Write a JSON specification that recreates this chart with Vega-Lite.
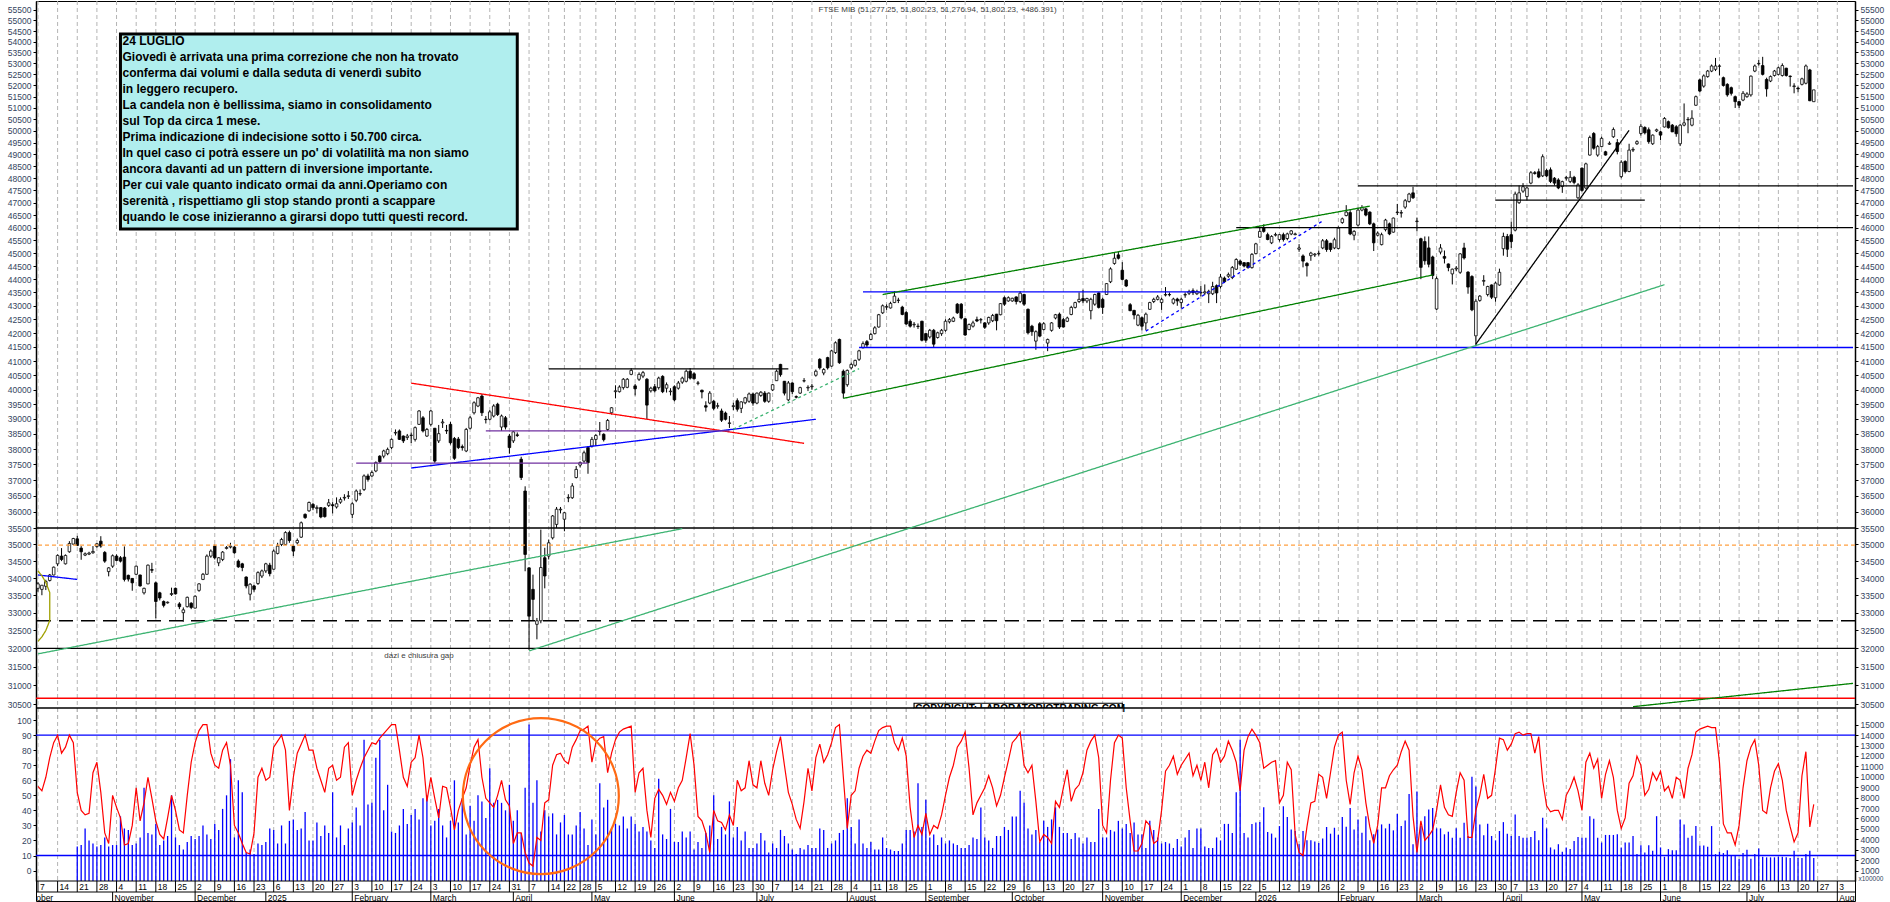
{
"$schema":"https://vega.github.io/schema/vega-lite/v6.json",
"width":1890,"height":902,
"autosize":{"type":"fit","contains":"padding"},
"padding":0,
"background":"#ffffff",
"config":{"font":"Liberation Sans","view":{"stroke":"#000000","strokeWidth":1},"axis":{"labelFont":"Liberation Sans","titleFont":"Liberation Sans"}},
"datasets":{
"px":[
{"d":"2024-10-07","o":33700,"h":33880,"l":33600,"c":33830,"s":56},
{"d":"2024-10-08","o":33670,"h":33800,"l":33500,"c":33790,"s":53},
{"d":"2024-10-09","o":33760,"h":33950,"l":33650,"c":33900,"s":62},
{"d":"2024-10-10","o":33930,"h":34120,"l":33900,"c":34090,"s":75},
{"d":"2024-10-11","o":34090,"h":34340,"l":34080,"c":34320,"s":85},
{"d":"2024-10-14","o":34420,"h":34700,"l":34350,"c":34670,"s":90},
{"d":"2024-10-15","o":34650,"h":34890,"l":34500,"c":34550,"s":78},
{"d":"2024-10-16","o":34420,"h":34700,"l":34400,"c":34670,"s":82},
{"d":"2024-10-17","o":34780,"h":35100,"l":34750,"c":35030,"s":90},
{"d":"2024-10-18","o":35010,"h":35200,"l":34990,"c":35180,"s":85},
{"d":"2024-10-21","o":35170,"h":35260,"l":34950,"c":34970,"s":52,"v":3310},
{"d":"2024-10-22","o":34890,"h":34950,"l":34540,"c":34780,"s":40,"v":3450},
{"d":"2024-10-23","o":34680,"h":34760,"l":34650,"c":34720,"s":37,"v":5040},
{"d":"2024-10-24","o":34710,"h":34780,"l":34680,"c":34740,"s":38,"v":3890},
{"d":"2024-10-25","o":34750,"h":34950,"l":34720,"c":34790,"s":65,"v":3600},
{"d":"2024-10-28","o":34940,"h":35040,"l":34900,"c":35020,"s":72,"v":3310},
{"d":"2024-10-29","o":35100,"h":35250,"l":34900,"c":34950,"s":52,"v":3450},
{"d":"2024-10-30","o":34760,"h":34800,"l":34450,"c":34500,"s":25,"v":4180},
{"d":"2024-10-31","o":34190,"h":34320,"l":34050,"c":34300,"s":18,"v":3310},
{"d":"2024-11-01","o":34350,"h":34700,"l":34300,"c":34660,"s":50,"v":3450},
{"d":"2024-11-04","o":34650,"h":34700,"l":34500,"c":34520,"s":42,"v":3450},
{"d":"2024-11-05","o":34600,"h":34650,"l":34460,"c":34500,"s":35,"v":6200},
{"d":"2024-11-06","o":34620,"h":34940,"l":33900,"c":33960,"s":17,"v":5040},
{"d":"2024-11-07","o":34080,"h":34100,"l":33900,"c":33970,"s":18,"v":4900},
{"d":"2024-11-08","o":33990,"h":34000,"l":33630,"c":33860,"s":30,"v":3450},
{"d":"2024-11-11","o":34110,"h":34370,"l":34090,"c":34350,"s":55,"v":3600},
{"d":"2024-11-12","o":34090,"h":34100,"l":33750,"c":33770,"s":33,"v":4180},
{"d":"2024-11-13","o":33570,"h":33720,"l":33520,"c":33700,"s":45,"v":8940},
{"d":"2024-11-14","o":33830,"h":34400,"l":33820,"c":34380,"s":62,"v":4610},
{"d":"2024-11-15","o":34250,"h":34450,"l":34150,"c":34230,"s":48,"v":4470},
{"d":"2024-11-18","o":33860,"h":33900,"l":32840,"c":33320,"s":33,"v":5480},
{"d":"2024-11-19","o":33570,"h":33600,"l":33350,"c":33420,"s":24,"v":3450},
{"d":"2024-11-20","o":33320,"h":33350,"l":33150,"c":33210,"s":21,"v":3890},
{"d":"2024-11-21","o":33280,"h":33320,"l":33260,"c":33300,"s":35,"v":4320},
{"d":"2024-11-22","o":33520,"h":33720,"l":33480,"c":33550,"s":50,"v":8220},
{"d":"2024-11-25","o":33700,"h":33720,"l":33520,"c":33540,"s":40,"v":4180},
{"d":"2024-11-26","o":33250,"h":33300,"l":33100,"c":33170,"s":27,"v":3450},
{"d":"2024-11-27","o":33000,"h":33150,"l":32740,"c":33080,"s":25,"v":3020},
{"d":"2024-11-28","o":33170,"h":33460,"l":33150,"c":33440,"s":50,"v":3740},
{"d":"2024-11-29","o":33270,"h":33300,"l":33100,"c":33150,"s":72,"v":4320},
{"d":"2024-12-02","o":33130,"h":33500,"l":33120,"c":33470,"s":85,"v":4030},
{"d":"2024-12-03","o":33640,"h":33850,"l":33600,"c":33830,"s":93,"v":4320},
{"d":"2024-12-04","o":33960,"h":34150,"l":33940,"c":34110,"s":97,"v":5330},
{"d":"2024-12-05","o":34110,"h":34700,"l":34100,"c":34650,"s":97,"v":4470},
{"d":"2024-12-06","o":34650,"h":34850,"l":34600,"c":34800,"s":78,"v":4030},
{"d":"2024-12-09","o":34950,"h":35000,"l":34550,"c":34600,"s":70,"v":5480},
{"d":"2024-12-10","o":34450,"h":34620,"l":34350,"c":34600,"s":68,"v":4900},
{"d":"2024-12-11","o":34550,"h":34800,"l":34500,"c":34770,"s":80,"v":6920},
{"d":"2024-12-12","o":34880,"h":34950,"l":34850,"c":34910,"s":85,"v":8220},
{"d":"2024-12-13","o":34920,"h":35050,"l":34880,"c":34950,"s":70,"v":11690},
{"d":"2024-12-16","o":34920,"h":34950,"l":34720,"c":34750,"s":30,"v":4180},
{"d":"2024-12-17","o":34500,"h":34550,"l":34300,"c":34330,"s":25,"v":9660},
{"d":"2024-12-18","o":34420,"h":34450,"l":34200,"c":34310,"s":18,"v":8510},
{"d":"2024-12-19","o":34030,"h":34050,"l":33700,"c":33770,"s":12,"v":2730},
{"d":"2024-12-20","o":33530,"h":33850,"l":33350,"c":33820,"s":11,"v":3020},
{"d":"2024-12-23","o":33770,"h":33800,"l":33600,"c":33670,"s":25,"v":2590},
{"d":"2024-12-27","o":33840,"h":34200,"l":33800,"c":34160,"s":62,"v":3600},
{"d":"2024-12-30","o":34060,"h":34250,"l":34000,"c":34210,"s":68,"v":3450},
{"d":"2025-01-02","o":34210,"h":34450,"l":34150,"c":34420,"s":60,"v":3740},
{"d":"2025-01-03","o":34380,"h":34450,"l":34050,"c":34130,"s":62,"v":5040},
{"d":"2025-01-06","o":34260,"h":34850,"l":34250,"c":34800,"s":82,"v":4900},
{"d":"2025-01-07","o":34730,"h":35050,"l":34700,"c":34950,"s":86,"v":3600},
{"d":"2025-01-08","o":35000,"h":35200,"l":34950,"c":35150,"s":90,"v":5330},
{"d":"2025-01-09","o":35000,"h":35400,"l":34980,"c":35360,"s":80,"v":3600},
{"d":"2025-01-10","o":35360,"h":35420,"l":35050,"c":35120,"s":40,"v":5770},
{"d":"2025-01-13","o":34950,"h":35000,"l":34650,"c":34800,"s":62,"v":5910},
{"d":"2025-01-14","o":35050,"h":35180,"l":35000,"c":35120,"s":78,"v":4900},
{"d":"2025-01-15","o":35220,"h":35700,"l":35200,"c":35660,"s":84,"v":5040},
{"d":"2025-01-16","o":35920,"h":35950,"l":35780,"c":35820,"s":90,"v":6630},
{"d":"2025-01-17","o":36030,"h":36320,"l":36000,"c":36290,"s":80,"v":3890},
{"d":"2025-01-20","o":36230,"h":36280,"l":36050,"c":36130,"s":80,"v":3890},
{"d":"2025-01-21","o":36100,"h":36200,"l":35950,"c":36130,"s":68,"v":5620},
{"d":"2025-01-22","o":36130,"h":36150,"l":35800,"c":35840,"s":60,"v":4320},
{"d":"2025-01-23","o":36120,"h":36150,"l":35820,"c":35850,"s":52,"v":5330},
{"d":"2025-01-24","o":36200,"h":36400,"l":36150,"c":36280,"s":68,"v":4610},
{"d":"2025-01-27","o":36220,"h":36300,"l":35950,"c":36190,"s":70,"v":8510},
{"d":"2025-01-28","o":36150,"h":36450,"l":36100,"c":36250,"s":60,"v":4180},
{"d":"2025-01-29","o":36300,"h":36450,"l":36250,"c":36380,"s":62,"v":5330},
{"d":"2025-01-30","o":36430,"h":36550,"l":36350,"c":36450,"s":82,"v":3450},
{"d":"2025-01-31","o":36480,"h":36650,"l":36400,"c":36500,"s":85,"v":5040},
{"d":"2025-02-03","o":35920,"h":36300,"l":35800,"c":36250,"s":50,"v":5620},
{"d":"2025-02-04","o":36360,"h":36700,"l":36300,"c":36650,"s":60,"v":7060},
{"d":"2025-02-05","o":36560,"h":36700,"l":36500,"c":36570,"s":68,"v":5330},
{"d":"2025-02-06","o":36700,"h":37180,"l":36650,"c":37130,"s":75,"v":13560},
{"d":"2025-02-07","o":37130,"h":37200,"l":36950,"c":37020,"s":80,"v":7350},
{"d":"2025-02-10","o":37130,"h":37300,"l":37100,"c":37240,"s":85,"v":7500},
{"d":"2025-02-11","o":37290,"h":37600,"l":37250,"c":37560,"s":84,"v":11830},
{"d":"2025-02-12","o":37770,"h":37800,"l":37550,"c":37590,"s":88,"v":13560},
{"d":"2025-02-13","o":37770,"h":37980,"l":37700,"c":37940,"s":91,"v":6780},
{"d":"2025-02-14","o":37850,"h":38050,"l":37800,"c":37990,"s":94,"v":9230},
{"d":"2025-02-17","o":38050,"h":38350,"l":38000,"c":38320,"s":97,"v":4750},
{"d":"2025-02-18","o":38530,"h":38650,"l":38450,"c":38550,"s":97,"v":4610},
{"d":"2025-02-19","o":38600,"h":38650,"l":38300,"c":38320,"s":80,"v":5330},
{"d":"2025-02-20","o":38430,"h":38450,"l":38200,"c":38270,"s":62,"v":6920},
{"d":"2025-02-21","o":38380,"h":38500,"l":38300,"c":38430,"s":56,"v":5480},
{"d":"2025-02-24","o":38450,"h":38550,"l":38200,"c":38460,"s":72,"v":6340},
{"d":"2025-02-25","o":38320,"h":38750,"l":38250,"c":38710,"s":75,"v":6920},
{"d":"2025-02-26","o":38820,"h":39300,"l":38800,"c":39270,"s":90,"v":5910},
{"d":"2025-02-27","o":39040,"h":39100,"l":38550,"c":38600,"s":75,"v":7930},
{"d":"2025-02-28","o":38430,"h":38700,"l":38400,"c":38650,"s":46,"v":8220},
{"d":"2025-03-03","o":38820,"h":39300,"l":38750,"c":39270,"s":62,"v":5330},
{"d":"2025-03-04","o":38690,"h":38700,"l":37550,"c":37610,"s":48,"v":5770},
{"d":"2025-03-05","o":38270,"h":38800,"l":38200,"c":38510,"s":35,"v":6920},
{"d":"2025-03-06","o":38870,"h":39000,"l":38700,"c":38900,"s":56,"v":5330},
{"d":"2025-03-07","o":38620,"h":38800,"l":38500,"c":38600,"s":55,"v":4180},
{"d":"2025-03-10","o":38820,"h":38900,"l":38150,"c":38210,"s":42,"v":5770},
{"d":"2025-03-11","o":38350,"h":38400,"l":37650,"c":37700,"s":27,"v":9660},
{"d":"2025-03-12","o":38330,"h":38400,"l":38000,"c":38050,"s":40,"v":5620},
{"d":"2025-03-13","o":38080,"h":38150,"l":37950,"c":38050,"s":48,"v":7930},
{"d":"2025-03-14","o":37940,"h":38700,"l":37900,"c":38650,"s":55,"v":4470},
{"d":"2025-03-17","o":38690,"h":39100,"l":38650,"c":39040,"s":70,"v":7210},
{"d":"2025-03-18","o":39210,"h":39600,"l":39150,"c":39550,"s":82,"v":5770},
{"d":"2025-03-19","o":39440,"h":39750,"l":39400,"c":39720,"s":87,"v":8220},
{"d":"2025-03-20","o":39780,"h":39850,"l":39100,"c":39210,"s":62,"v":7640},
{"d":"2025-03-21","o":38990,"h":39100,"l":38850,"c":38980,"s":48,"v":6050},
{"d":"2025-03-24","o":38990,"h":39300,"l":38950,"c":39240,"s":45,"v":10820},
{"d":"2025-03-25","o":39100,"h":39500,"l":39050,"c":39440,"s":42,"v":7500},
{"d":"2025-03-26","o":39500,"h":39550,"l":39100,"c":39150,"s":50,"v":7790},
{"d":"2025-03-27","o":38730,"h":39150,"l":38600,"c":39100,"s":60,"v":7500},
{"d":"2025-03-28","o":39040,"h":39100,"l":38650,"c":38730,"s":47,"v":6780},
{"d":"2025-03-31","o":38430,"h":38500,"l":37850,"c":38050,"s":43,"v":9230},
{"d":"2025-04-01","o":38270,"h":38600,"l":38200,"c":38570,"s":18,"v":5770},
{"d":"2025-04-02","o":38470,"h":38550,"l":38400,"c":38450,"s":25,"v":6780},
{"d":"2025-04-03","o":37670,"h":37750,"l":37000,"c":37080,"s":25,"v":4610},
{"d":"2025-04-04","o":36650,"h":36800,"l":34200,"c":34700,"s":12,"v":8940},
{"d":"2025-04-07","o":34300,"h":34320,"l":31950,"c":32900,"s":5,"v":15010},
{"d":"2025-04-08","o":33670,"h":34100,"l":32770,"c":33380,"s":3,"v":7500},
{"d":"2025-04-09","o":32670,"h":32850,"l":32250,"c":32770,"s":22,"v":9660},
{"d":"2025-04-10","o":32770,"h":35450,"l":32700,"c":34310,"s":20,"v":4750},
{"d":"2025-04-11","o":34600,"h":34900,"l":33700,"c":34060,"s":45,"v":6780},
{"d":"2025-04-14","o":34650,"h":35150,"l":34550,"c":35050,"s":47,"v":6200},
{"d":"2025-04-15","o":35200,"h":35900,"l":35150,"c":35870,"s":70,"v":6490},
{"d":"2025-04-16","o":35610,"h":36150,"l":35500,"c":36080,"s":77,"v":4470},
{"d":"2025-04-17","o":36060,"h":36150,"l":35950,"c":36080,"s":78,"v":5620},
{"d":"2025-04-22","o":35770,"h":36000,"l":35400,"c":35970,"s":73,"v":6340},
{"d":"2025-04-23","o":36430,"h":36550,"l":36300,"c":36450,"s":71,"v":4470},
{"d":"2025-04-24","o":36440,"h":36900,"l":36400,"c":36810,"s":82,"v":4470},
{"d":"2025-04-25","o":37080,"h":37450,"l":37050,"c":37340,"s":87,"v":5330},
{"d":"2025-04-28","o":37480,"h":37600,"l":37400,"c":37560,"s":93,"v":6630},
{"d":"2025-04-29","o":37610,"h":37950,"l":37550,"c":37880,"s":94,"v":5040},
{"d":"2025-04-30","o":38050,"h":38100,"l":37200,"c":37560,"s":96,"v":3450},
{"d":"2025-05-02","o":38100,"h":38400,"l":38050,"c":38320,"s":72,"v":5910},
{"d":"2025-05-05","o":38320,"h":38500,"l":38100,"c":38450,"s":85,"v":4470},
{"d":"2025-05-06","o":38600,"h":38900,"l":38450,"c":38580,"s":88,"v":9380},
{"d":"2025-05-07","o":38490,"h":38520,"l":38250,"c":38310,"s":89,"v":7060},
{"d":"2025-05-08","o":38650,"h":39000,"l":38600,"c":38950,"s":65,"v":7790},
{"d":"2025-05-09","o":39210,"h":39400,"l":39150,"c":39380,"s":78,"v":5040},
{"d":"2025-05-12","o":39930,"h":40150,"l":39700,"c":39960,"s":87,"v":5480},
{"d":"2025-05-13","o":39930,"h":40150,"l":39900,"c":40090,"s":92,"v":5330},
{"d":"2025-05-14","o":40070,"h":40400,"l":40000,"c":40360,"s":94,"v":6200},
{"d":"2025-05-15","o":40080,"h":40400,"l":40050,"c":40360,"s":95,"v":5040},
{"d":"2025-05-16","o":40530,"h":40750,"l":40500,"c":40670,"s":96,"v":6200},
{"d":"2025-05-19","o":40130,"h":40200,"l":39800,"c":40030,"s":52,"v":5480},
{"d":"2025-05-20","o":40360,"h":40600,"l":40300,"c":40530,"s":65,"v":4750},
{"d":"2025-05-21","o":40470,"h":40650,"l":40400,"c":40590,"s":68,"v":5190},
{"d":"2025-05-22","o":40360,"h":40400,"l":39000,"c":39470,"s":40,"v":4750},
{"d":"2025-05-23","o":39960,"h":40100,"l":39900,"c":40050,"s":22,"v":3890},
{"d":"2025-05-26","o":40100,"h":40200,"l":39900,"c":39960,"s":48,"v":3170},
{"d":"2025-05-27","o":40070,"h":40450,"l":40000,"c":40400,"s":54,"v":9810},
{"d":"2025-05-28","o":40460,"h":40500,"l":39880,"c":39930,"s":50,"v":4470},
{"d":"2025-05-29","o":40050,"h":40250,"l":39900,"c":40170,"s":44,"v":4030},
{"d":"2025-05-30","o":39930,"h":40050,"l":39800,"c":39950,"s":52,"v":6920},
{"d":"2025-06-02","o":40100,"h":40150,"l":39600,"c":39650,"s":46,"v":3740},
{"d":"2025-06-03","o":40050,"h":40300,"l":40000,"c":40230,"s":55,"v":3740},
{"d":"2025-06-04","o":40260,"h":40450,"l":40200,"c":40400,"s":60,"v":4750},
{"d":"2025-06-05","o":40290,"h":40700,"l":40250,"c":40640,"s":75,"v":4180},
{"d":"2025-06-06","o":40640,"h":40750,"l":40350,"c":40400,"s":91,"v":4750},
{"d":"2025-06-09","o":40550,"h":40600,"l":40350,"c":40380,"s":70,"v":3020},
{"d":"2025-06-10","o":40220,"h":40300,"l":40150,"c":40230,"s":36,"v":3740},
{"d":"2025-06-11","o":39980,"h":40000,"l":39700,"c":39920,"s":33,"v":3170},
{"d":"2025-06-12","o":39450,"h":39600,"l":39250,"c":39400,"s":25,"v":4610},
{"d":"2025-06-13","o":39540,"h":39950,"l":39500,"c":39880,"s":12,"v":5330},
{"d":"2025-06-16","o":39600,"h":39650,"l":39300,"c":39360,"s":40,"v":8220},
{"d":"2025-06-17","o":39430,"h":39550,"l":39350,"c":39450,"s":33,"v":4030},
{"d":"2025-06-18","o":39270,"h":39350,"l":38900,"c":38960,"s":32,"v":5190},
{"d":"2025-06-19","o":39200,"h":39250,"l":38950,"c":38990,"s":27,"v":4470},
{"d":"2025-06-20","o":38850,"h":39100,"l":38700,"c":38870,"s":37,"v":7640},
{"d":"2025-06-23","o":39420,"h":39550,"l":39300,"c":39450,"s":30,"v":4180},
{"d":"2025-06-24","o":39620,"h":39700,"l":39250,"c":39330,"s":60,"v":5190},
{"d":"2025-06-25","o":39360,"h":39600,"l":39200,"c":39580,"s":53,"v":3890},
{"d":"2025-06-26","o":39550,"h":39750,"l":39500,"c":39720,"s":55,"v":4750},
{"d":"2025-06-27","o":39600,"h":39900,"l":39550,"c":39850,"s":73,"v":3170},
{"d":"2025-06-30","o":39850,"h":39900,"l":39450,"c":39540,"s":57,"v":3170},
{"d":"2025-07-01","o":39540,"h":39900,"l":39500,"c":39880,"s":55,"v":3600},
{"d":"2025-07-02","o":39800,"h":39950,"l":39750,"c":39910,"s":73,"v":4610},
{"d":"2025-07-03","o":39880,"h":39950,"l":39550,"c":39600,"s":58,"v":3890},
{"d":"2025-07-04","o":39600,"h":39900,"l":39550,"c":39880,"s":50,"v":2730},
{"d":"2025-07-07","o":39990,"h":40200,"l":39950,"c":40170,"s":67,"v":3600},
{"d":"2025-07-08","o":40310,"h":40700,"l":40300,"c":40640,"s":79,"v":3170},
{"d":"2025-07-09","o":40880,"h":40900,"l":40450,"c":40520,"s":89,"v":4900},
{"d":"2025-07-10","o":40290,"h":40300,"l":39800,"c":39880,"s":70,"v":4320},
{"d":"2025-07-11","o":39650,"h":40300,"l":39600,"c":40230,"s":52,"v":3600},
{"d":"2025-07-14","o":40230,"h":40250,"l":39850,"c":39930,"s":44,"v":3020},
{"d":"2025-07-15","o":39760,"h":39800,"l":39700,"c":39740,"s":34,"v":2590},
{"d":"2025-07-16","o":39880,"h":40100,"l":39850,"c":40070,"s":28,"v":3170},
{"d":"2025-07-17","o":40300,"h":40400,"l":40250,"c":40310,"s":46,"v":3020},
{"d":"2025-07-18","o":40060,"h":40150,"l":39950,"c":40080,"s":68,"v":3450},
{"d":"2025-07-21","o":40100,"h":40200,"l":40000,"c":40120,"s":53,"v":3170},
{"d":"2025-07-22","o":40500,"h":40700,"l":40450,"c":40640,"s":75,"v":3170},
{"d":"2025-07-23","o":41060,"h":41100,"l":40700,"c":40760,"s":84,"v":5040},
{"d":"2025-07-24","o":40580,"h":40750,"l":40500,"c":40700,"s":72,"v":4900},
{"d":"2025-07-25","o":41120,"h":41150,"l":40700,"c":40760,"s":77,"v":3170},
{"d":"2025-07-28","o":40820,"h":41400,"l":40800,"c":41360,"s":85,"v":3600},
{"d":"2025-07-29","o":41300,"h":41700,"l":41250,"c":41650,"s":95,"v":3890},
{"d":"2025-07-30","o":41770,"h":41800,"l":40900,"c":40940,"s":97,"v":4610},
{"d":"2025-07-31","o":40640,"h":40700,"l":39700,"c":39880,"s":62,"v":4900},
{"d":"2025-08-01","o":40170,"h":40700,"l":40100,"c":40670,"s":28,"v":7930},
{"d":"2025-08-04","o":40760,"h":40950,"l":40700,"c":40880,"s":50,"v":5190},
{"d":"2025-08-05","o":40850,"h":41050,"l":40800,"c":41020,"s":53,"v":3600},
{"d":"2025-08-06","o":41060,"h":41400,"l":41000,"c":41360,"s":68,"v":5910},
{"d":"2025-08-07","o":41470,"h":41700,"l":41450,"c":41620,"s":76,"v":3600},
{"d":"2025-08-08","o":41690,"h":41750,"l":41500,"c":41570,"s":80,"v":3170},
{"d":"2025-08-11","o":41770,"h":42000,"l":41750,"c":41950,"s":78,"v":3740},
{"d":"2025-08-12","o":41980,"h":42250,"l":41950,"c":42190,"s":86,"v":3020},
{"d":"2025-08-13","o":42220,"h":42700,"l":42200,"c":42670,"s":93,"v":3020},
{"d":"2025-08-14","o":42740,"h":43050,"l":42700,"c":43000,"s":95,"v":4180},
{"d":"2025-08-18","o":42950,"h":43050,"l":42850,"c":42970,"s":96,"v":3170},
{"d":"2025-08-19","o":42920,"h":43150,"l":42900,"c":43090,"s":96,"v":3020},
{"d":"2025-08-20","o":43120,"h":43550,"l":43100,"c":43360,"s":85,"v":2880},
{"d":"2025-08-21","o":43200,"h":43300,"l":43100,"c":43210,"s":80,"v":2880},
{"d":"2025-08-22","o":42950,"h":43000,"l":42650,"c":42680,"s":88,"v":3600},
{"d":"2025-08-25","o":42750,"h":42800,"l":42300,"c":42330,"s":76,"v":4900},
{"d":"2025-08-26","o":42430,"h":42500,"l":42200,"c":42250,"s":42,"v":4900},
{"d":"2025-08-27","o":42300,"h":42400,"l":42200,"c":42320,"s":22,"v":4750},
{"d":"2025-08-28","o":42250,"h":42350,"l":42150,"c":42240,"s":30,"v":9380},
{"d":"2025-08-29","o":42430,"h":42450,"l":41700,"c":41740,"s":24,"v":5190},
{"d":"2025-09-01","o":41980,"h":42000,"l":41650,"c":41740,"s":38,"v":7790},
{"d":"2025-09-02","o":41860,"h":42150,"l":41800,"c":42100,"s":24,"v":4180},
{"d":"2025-09-03","o":42100,"h":42150,"l":41500,"c":41600,"s":30,"v":4470},
{"d":"2025-09-04","o":41840,"h":42050,"l":41800,"c":42010,"s":28,"v":3450},
{"d":"2025-09-05","o":41980,"h":42150,"l":41900,"c":42100,"s":37,"v":4180},
{"d":"2025-09-08","o":42100,"h":42500,"l":42050,"c":42430,"s":50,"v":3600},
{"d":"2025-09-09","o":42410,"h":42550,"l":42350,"c":42490,"s":62,"v":3890},
{"d":"2025-09-10","o":42430,"h":42600,"l":42400,"c":42550,"s":70,"v":3600},
{"d":"2025-09-11","o":43060,"h":43100,"l":42700,"c":42740,"s":82,"v":3450},
{"d":"2025-09-12","o":43060,"h":43100,"l":42500,"c":42550,"s":86,"v":3170},
{"d":"2025-09-15","o":42520,"h":42550,"l":41900,"c":41930,"s":92,"v":3170},
{"d":"2025-09-16","o":42130,"h":42350,"l":42100,"c":42310,"s":68,"v":3450},
{"d":"2025-09-17","o":42250,"h":42450,"l":42200,"c":42370,"s":37,"v":4180},
{"d":"2025-09-18","o":42490,"h":42600,"l":42400,"c":42440,"s":45,"v":4030},
{"d":"2025-09-19","o":42480,"h":42550,"l":42350,"c":42490,"s":50,"v":7060},
{"d":"2025-09-22","o":42370,"h":42400,"l":42150,"c":42210,"s":55,"v":4180},
{"d":"2025-09-23","o":42370,"h":42600,"l":42300,"c":42570,"s":63,"v":3890},
{"d":"2025-09-24","o":42450,"h":42700,"l":42400,"c":42640,"s":55,"v":3170},
{"d":"2025-09-25","o":42690,"h":42700,"l":42100,"c":42450,"s":43,"v":4320},
{"d":"2025-09-26","o":42670,"h":43100,"l":42650,"c":43080,"s":50,"v":4320},
{"d":"2025-09-29","o":43300,"h":43350,"l":43000,"c":43060,"s":62,"v":5190},
{"d":"2025-09-30","o":43180,"h":43350,"l":43150,"c":43300,"s":73,"v":4900},
{"d":"2025-10-01","o":43180,"h":43300,"l":43150,"c":43280,"s":85,"v":6200},
{"d":"2025-10-02","o":43330,"h":43350,"l":43050,"c":43160,"s":88,"v":6200},
{"d":"2025-10-03","o":43160,"h":43550,"l":43100,"c":43470,"s":92,"v":8650},
{"d":"2025-10-06","o":43420,"h":43450,"l":43000,"c":43060,"s":70,"v":7500},
{"d":"2025-10-07","o":42870,"h":42900,"l":41950,"c":42010,"s":65,"v":5040},
{"d":"2025-10-08","o":42250,"h":42300,"l":41900,"c":42050,"s":70,"v":4470},
{"d":"2025-10-09","o":41710,"h":42100,"l":41400,"c":42050,"s":46,"v":4900},
{"d":"2025-10-10","o":42340,"h":42400,"l":41850,"c":41890,"s":19,"v":3740},
{"d":"2025-10-13","o":42130,"h":42400,"l":42100,"c":42340,"s":24,"v":5770},
{"d":"2025-10-14","o":41640,"h":41800,"l":41350,"c":41770,"s":22,"v":5190},
{"d":"2025-10-15","o":42100,"h":42400,"l":42050,"c":42370,"s":18,"v":5910},
{"d":"2025-10-16","o":42550,"h":42700,"l":42500,"c":42670,"s":46,"v":7060},
{"d":"2025-10-17","o":42690,"h":42750,"l":42150,"c":42220,"s":42,"v":5190},
{"d":"2025-10-20","o":42490,"h":42550,"l":42200,"c":42220,"s":55,"v":4610},
{"d":"2025-10-21","o":42430,"h":42600,"l":42400,"c":42550,"s":67,"v":4610},
{"d":"2025-10-22","o":42680,"h":43000,"l":42650,"c":42940,"s":46,"v":4030},
{"d":"2025-10-23","o":42940,"h":43150,"l":42900,"c":43120,"s":54,"v":4610},
{"d":"2025-10-24","o":43160,"h":43500,"l":43100,"c":43240,"s":57,"v":4180},
{"d":"2025-10-27","o":43270,"h":43600,"l":43100,"c":43180,"s":65,"v":3600},
{"d":"2025-10-28","o":43180,"h":43300,"l":43100,"c":43270,"s":80,"v":4180},
{"d":"2025-10-29","o":42820,"h":43300,"l":42500,"c":43240,"s":86,"v":3740},
{"d":"2025-10-30","o":43060,"h":43450,"l":43000,"c":43420,"s":90,"v":3740},
{"d":"2025-10-31","o":43480,"h":43500,"l":42900,"c":42940,"s":75,"v":6920},
{"d":"2025-11-03","o":43240,"h":43300,"l":42700,"c":42940,"s":30,"v":4180},
{"d":"2025-11-04","o":43420,"h":43850,"l":43400,"c":43830,"s":25,"v":4180},
{"d":"2025-11-05","o":43900,"h":44450,"l":43850,"c":44390,"s":60,"v":4900},
{"d":"2025-11-06","o":44600,"h":45000,"l":44550,"c":44800,"s":85,"v":4750},
{"d":"2025-11-07","o":44930,"h":45050,"l":44750,"c":44800,"s":90,"v":5770},
{"d":"2025-11-10","o":44340,"h":44650,"l":43950,"c":43990,"s":88,"v":5040},
{"d":"2025-11-11","o":43960,"h":44000,"l":43700,"c":43740,"s":55,"v":5480},
{"d":"2025-11-12","o":43040,"h":43100,"l":42800,"c":42820,"s":33,"v":4610},
{"d":"2025-11-13","o":42830,"h":42850,"l":42500,"c":42660,"s":13,"v":5620},
{"d":"2025-11-14","o":42290,"h":42700,"l":42250,"c":42650,"s":13,"v":4470},
{"d":"2025-11-17","o":42560,"h":42600,"l":42100,"c":42250,"s":18,"v":4470},
{"d":"2025-11-18","o":42370,"h":42750,"l":42100,"c":42690,"s":33,"v":3170},
{"d":"2025-11-19","o":42870,"h":43150,"l":42850,"c":43120,"s":30,"v":5770},
{"d":"2025-11-20","o":43160,"h":43300,"l":43100,"c":43240,"s":18,"v":4900},
{"d":"2025-11-21","o":43240,"h":43400,"l":43200,"c":43330,"s":20,"v":4180},
{"d":"2025-11-24","o":43120,"h":43300,"l":42850,"c":43240,"s":40,"v":3600},
{"d":"2025-11-25","o":43400,"h":43700,"l":43350,"c":43420,"s":66,"v":3740},
{"d":"2025-11-26","o":43420,"h":43500,"l":43350,"c":43410,"s":70,"v":3600},
{"d":"2025-11-27","o":43100,"h":43300,"l":43050,"c":43250,"s":76,"v":3170},
{"d":"2025-11-28","o":43250,"h":43300,"l":43000,"c":43180,"s":64,"v":4030},
{"d":"2025-12-01","o":43120,"h":43300,"l":42900,"c":43240,"s":70,"v":3310},
{"d":"2025-12-02","o":43400,"h":43500,"l":43300,"c":43420,"s":74,"v":4180},
{"d":"2025-12-03","o":43470,"h":43600,"l":43400,"c":43530,"s":78,"v":4900},
{"d":"2025-12-04","o":43560,"h":43650,"l":43400,"c":43490,"s":63,"v":3170},
{"d":"2025-12-05","o":43450,"h":43600,"l":43400,"c":43530,"s":70,"v":5040},
{"d":"2025-12-08","o":43480,"h":43750,"l":43350,"c":43500,"s":60,"v":5040},
{"d":"2025-12-09","o":43480,"h":43800,"l":43400,"c":43520,"s":72,"v":3310},
{"d":"2025-12-10","o":43450,"h":43600,"l":43100,"c":43540,"s":55,"v":3170},
{"d":"2025-12-11","o":43450,"h":43900,"l":43400,"c":43720,"s":77,"v":3170},
{"d":"2025-12-12","o":43750,"h":43800,"l":43100,"c":43480,"s":81,"v":4180},
{"d":"2025-12-15","o":43720,"h":44200,"l":43650,"c":44080,"s":72,"v":3890},
{"d":"2025-12-16","o":44040,"h":44100,"l":43850,"c":43900,"s":76,"v":5480},
{"d":"2025-12-17","o":44110,"h":44250,"l":44050,"c":44170,"s":86,"v":5480},
{"d":"2025-12-18","o":44060,"h":44500,"l":44000,"c":44440,"s":80,"v":4610},
{"d":"2025-12-19","o":44380,"h":44800,"l":44350,"c":44750,"s":72,"v":8510},
{"d":"2025-12-22","o":44690,"h":44750,"l":44500,"c":44570,"s":53,"v":13560},
{"d":"2025-12-23","o":44630,"h":44650,"l":44450,"c":44500,"s":80,"v":4610},
{"d":"2025-12-29","o":44630,"h":44650,"l":44400,"c":44440,"s":89,"v":4180},
{"d":"2025-12-30","o":44440,"h":45000,"l":44400,"c":44950,"s":94,"v":5480},
{"d":"2026-01-02","o":44980,"h":45400,"l":44950,"c":45360,"s":90,"v":5620},
{"d":"2026-01-05","o":45620,"h":45980,"l":45600,"c":45850,"s":85,"v":5650},
{"d":"2026-01-06","o":46000,"h":46130,"l":45800,"c":45850,"s":68,"v":7080},
{"d":"2026-01-07","o":45720,"h":45800,"l":45500,"c":45530,"s":70,"v":4700},
{"d":"2026-01-08","o":45400,"h":45700,"l":45350,"c":45650,"s":72,"v":4550},
{"d":"2026-01-09","o":45700,"h":45800,"l":45650,"c":45730,"s":73,"v":4160},
{"d":"2026-01-12","o":45530,"h":45750,"l":45450,"c":45720,"s":45,"v":5270},
{"d":"2026-01-13","o":45720,"h":45800,"l":45450,"c":45530,"s":50,"v":7170},
{"d":"2026-01-14","o":45570,"h":45800,"l":45500,"c":45750,"s":72,"v":6150},
{"d":"2026-01-15","o":45750,"h":45900,"l":45700,"c":45870,"s":67,"v":4950},
{"d":"2026-01-16","o":45720,"h":45800,"l":45700,"c":45750,"s":24,"v":4800},
{"d":"2026-01-19","o":45150,"h":45350,"l":45050,"c":45200,"s":12,"v":3530},
{"d":"2026-01-20","o":44890,"h":44950,"l":44450,"c":44690,"s":10,"v":4800},
{"d":"2026-01-21","o":44600,"h":44650,"l":44100,"c":44510,"s":29,"v":3900},
{"d":"2026-01-22","o":44900,"h":45050,"l":44700,"c":45000,"s":45,"v":3900},
{"d":"2026-01-23","o":44930,"h":45000,"l":44850,"c":44960,"s":46,"v":3780},
{"d":"2026-01-26","o":44970,"h":45100,"l":44900,"c":44990,"s":64,"v":3650},
{"d":"2026-01-27","o":45200,"h":45550,"l":45150,"c":45480,"s":62,"v":4070},
{"d":"2026-01-28","o":45480,"h":45550,"l":45050,"c":45140,"s":48,"v":5180},
{"d":"2026-01-29","o":45380,"h":45400,"l":45050,"c":45140,"s":65,"v":4540},
{"d":"2026-01-30","o":45200,"h":45600,"l":45150,"c":45520,"s":82,"v":5110},
{"d":"2026-02-02","o":45180,"h":46050,"l":45150,"c":45980,"s":90,"v":4420},
{"d":"2026-02-03","o":46200,"h":46400,"l":46150,"c":46350,"s":92,"v":6130},
{"d":"2026-02-04","o":46480,"h":46900,"l":46450,"c":46620,"s":60,"v":5200},
{"d":"2026-02-05","o":46600,"h":46700,"l":45700,"c":45750,"s":44,"v":7000},
{"d":"2026-02-06","o":45700,"h":45900,"l":45500,"c":45850,"s":65,"v":4950},
{"d":"2026-02-09","o":46100,"h":46800,"l":46050,"c":46700,"s":76,"v":5900},
{"d":"2026-02-10","o":46700,"h":46900,"l":46650,"c":46800,"s":67,"v":4640},
{"d":"2026-02-11","o":46750,"h":46800,"l":46450,"c":46500,"s":45,"v":6220},
{"d":"2026-02-12","o":46620,"h":46650,"l":46100,"c":46150,"s":29,"v":3900},
{"d":"2026-02-13","o":46150,"h":46200,"l":45080,"c":45400,"s":18,"v":4480},
{"d":"2026-02-16","o":45700,"h":45850,"l":45650,"c":45780,"s":30,"v":4950},
{"d":"2026-02-17","o":45330,"h":45800,"l":45300,"c":45720,"s":55,"v":5430},
{"d":"2026-02-18","o":45920,"h":46350,"l":45850,"c":46300,"s":55,"v":5050},
{"d":"2026-02-19","o":46150,"h":46200,"l":45700,"c":45750,"s":63,"v":5490},
{"d":"2026-02-20","o":45820,"h":46400,"l":45800,"c":46380,"s":67,"v":4860},
{"d":"2026-02-23","o":46600,"h":46950,"l":46500,"c":46620,"s":70,"v":6440},
{"d":"2026-02-24","o":46580,"h":46700,"l":46400,"c":46600,"s":79,"v":5270},
{"d":"2026-02-25","o":46820,"h":47150,"l":46750,"c":47080,"s":86,"v":5810},
{"d":"2026-02-26","o":47050,"h":47400,"l":47000,"c":47350,"s":80,"v":8340},
{"d":"2026-02-27","o":47400,"h":47650,"l":47150,"c":47200,"s":36,"v":3530},
{"d":"2026-03-02","o":46240,"h":46400,"l":45850,"c":46260,"s":12,"v":8590},
{"d":"2026-03-03","o":45560,"h":45600,"l":44000,"c":44450,"s":33,"v":5270},
{"d":"2026-03-04","o":45450,"h":45650,"l":44550,"c":44700,"s":20,"v":6220},
{"d":"2026-03-05","o":45200,"h":45650,"l":44450,"c":44570,"s":23,"v":6850},
{"d":"2026-03-06","o":44850,"h":44900,"l":44000,"c":44140,"s":27,"v":7000},
{"d":"2026-03-09","o":42880,"h":44100,"l":42850,"c":44020,"s":40,"v":5050},
{"d":"2026-03-10","o":45040,"h":45350,"l":44950,"c":45200,"s":57,"v":5050},
{"d":"2026-03-11","o":44870,"h":45100,"l":44600,"c":44800,"s":42,"v":4480},
{"d":"2026-03-12","o":44580,"h":44600,"l":44300,"c":44440,"s":37,"v":4730},
{"d":"2026-03-13","o":44200,"h":44400,"l":43800,"c":44380,"s":36,"v":4160},
{"d":"2026-03-16","o":44390,"h":44500,"l":44300,"c":44420,"s":52,"v":5050},
{"d":"2026-03-17","o":44260,"h":45000,"l":44200,"c":44970,"s":65,"v":4160},
{"d":"2026-03-18","o":45200,"h":45400,"l":44750,"c":44810,"s":60,"v":5590},
{"d":"2026-03-19","o":44270,"h":44300,"l":43450,"c":43700,"s":22,"v":4320},
{"d":"2026-03-20","o":44100,"h":44150,"l":42800,"c":42850,"s":22,"v":10000},
{"d":"2026-03-23","o":41900,"h":43250,"l":41550,"c":43170,"s":40,"v":9070},
{"d":"2026-03-24","o":43200,"h":43400,"l":43150,"c":43360,"s":50,"v":5430},
{"d":"2026-03-25","o":43920,"h":44150,"l":43750,"c":43950,"s":64,"v":4390},
{"d":"2026-03-26","o":43420,"h":43750,"l":43350,"c":43720,"s":48,"v":5490},
{"d":"2026-03-27","o":43780,"h":43800,"l":43250,"c":43320,"s":50,"v":4320},
{"d":"2026-03-30","o":43300,"h":43900,"l":43150,"c":43850,"s":68,"v":3900},
{"d":"2026-03-31","o":43780,"h":44400,"l":43750,"c":44260,"s":88,"v":4800},
{"d":"2026-04-01","o":45170,"h":45800,"l":44900,"c":45650,"s":87,"v":5650},
{"d":"2026-04-02","o":45650,"h":45750,"l":44850,"c":45150,"s":80,"v":4540},
{"d":"2026-04-07","o":45720,"h":46230,"l":45200,"c":45450,"s":84,"v":4320},
{"d":"2026-04-08","o":45900,"h":47450,"l":45850,"c":47350,"s":91,"v":6380},
{"d":"2026-04-09","o":47000,"h":47700,"l":46950,"c":47400,"s":92,"v":4320},
{"d":"2026-04-10","o":47470,"h":47800,"l":47400,"c":47650,"s":90,"v":4160},
{"d":"2026-04-13","o":47250,"h":47650,"l":47100,"c":47600,"s":91,"v":4160},
{"d":"2026-04-14","o":47800,"h":48300,"l":47750,"c":48230,"s":91,"v":4230},
{"d":"2026-04-15","o":48230,"h":48300,"l":48150,"c":48200,"s":78,"v":4800},
{"d":"2026-04-16","o":48270,"h":48400,"l":48000,"c":48050,"s":89,"v":3900},
{"d":"2026-04-17","o":48100,"h":49000,"l":48050,"c":48900,"s":60,"v":6060},
{"d":"2026-04-20","o":48320,"h":48400,"l":48050,"c":48100,"s":43,"v":5050},
{"d":"2026-04-21","o":48350,"h":48450,"l":47800,"c":47870,"s":39,"v":3220},
{"d":"2026-04-22","o":48000,"h":48050,"l":47700,"c":47800,"s":40,"v":3030},
{"d":"2026-04-23","o":47930,"h":48000,"l":47550,"c":47600,"s":40,"v":3530},
{"d":"2026-04-24","o":47660,"h":47900,"l":47400,"c":47860,"s":34,"v":2800},
{"d":"2026-04-27","o":48000,"h":48100,"l":47900,"c":48030,"s":50,"v":3220},
{"d":"2026-04-28","o":47870,"h":48300,"l":47800,"c":48040,"s":55,"v":3060},
{"d":"2026-04-29","o":48040,"h":48100,"l":47750,"c":47830,"s":62,"v":3850},
{"d":"2026-04-30","o":47200,"h":47800,"l":47150,"c":47730,"s":53,"v":4230},
{"d":"2026-05-04","o":48420,"h":48450,"l":47450,"c":47500,"s":40,"v":4160},
{"d":"2026-05-05","o":47600,"h":48650,"l":47550,"c":48600,"s":72,"v":4160},
{"d":"2026-05-06","o":48970,"h":49800,"l":48950,"c":49720,"s":78,"v":6220},
{"d":"2026-05-07","o":49890,"h":49950,"l":49200,"c":49260,"s":68,"v":5970},
{"d":"2026-05-08","o":48970,"h":49400,"l":48900,"c":49330,"s":74,"v":4160},
{"d":"2026-05-11","o":49330,"h":49750,"l":49300,"c":49680,"s":48,"v":3690},
{"d":"2026-05-12","o":49110,"h":49150,"l":48950,"c":48970,"s":64,"v":4420},
{"d":"2026-05-13","o":49430,"h":49550,"l":49400,"c":49470,"s":73,"v":4420},
{"d":"2026-05-14","o":49750,"h":50150,"l":49700,"c":50060,"s":62,"v":4420},
{"d":"2026-05-15","o":49500,"h":49650,"l":49000,"c":49120,"s":40,"v":4480},
{"d":"2026-05-18","o":48070,"h":48750,"l":48000,"c":48670,"s":28,"v":3220},
{"d":"2026-05-19","o":48700,"h":48750,"l":48200,"c":48280,"s":35,"v":3690},
{"d":"2026-05-20","o":48280,"h":49450,"l":48250,"c":49180,"s":58,"v":3690},
{"d":"2026-05-21","o":49180,"h":49300,"l":49100,"c":49210,"s":63,"v":4320},
{"d":"2026-05-22","o":49450,"h":49600,"l":49400,"c":49540,"s":76,"v":2580},
{"d":"2026-05-25","o":49890,"h":50300,"l":49800,"c":50200,"s":70,"v":3440},
{"d":"2026-05-26","o":50150,"h":50200,"l":49850,"c":49920,"s":50,"v":2740},
{"d":"2026-05-27","o":50050,"h":50150,"l":49450,"c":49540,"s":54,"v":3440},
{"d":"2026-05-28","o":49450,"h":49850,"l":49400,"c":49820,"s":65,"v":2900},
{"d":"2026-05-29","o":50000,"h":50100,"l":49950,"c":50050,"s":60,"v":6220},
{"d":"2026-06-01","o":49960,"h":50000,"l":49600,"c":49820,"s":66,"v":3220},
{"d":"2026-06-02","o":50170,"h":50600,"l":50150,"c":50540,"s":53,"v":2330},
{"d":"2026-06-03","o":50400,"h":50450,"l":50100,"c":50140,"s":56,"v":3060},
{"d":"2026-06-04","o":50250,"h":50300,"l":49950,"c":49960,"s":48,"v":2960},
{"d":"2026-06-05","o":50180,"h":50250,"l":49750,"c":49880,"s":62,"v":2960},
{"d":"2026-06-08","o":49450,"h":50300,"l":49350,"c":50250,"s":60,"v":5900},
{"d":"2026-06-09","o":50250,"h":51200,"l":50200,"c":50350,"s":48,"v":5430},
{"d":"2026-06-10","o":50480,"h":50600,"l":49900,"c":50500,"s":68,"v":4160},
{"d":"2026-06-11","o":50250,"h":50900,"l":50200,"c":50550,"s":77,"v":4350},
{"d":"2026-06-12","o":51120,"h":51550,"l":51100,"c":51500,"s":92,"v":5270},
{"d":"2026-06-15","o":52250,"h":52300,"l":51700,"c":51750,"s":94,"v":3400},
{"d":"2026-06-16","o":51970,"h":52500,"l":51900,"c":52430,"s":95,"v":3400},
{"d":"2026-06-17","o":52400,"h":52700,"l":52350,"c":52650,"s":96,"v":3280},
{"d":"2026-06-18","o":52650,"h":52950,"l":52600,"c":52880,"s":95,"v":5270},
{"d":"2026-06-19","o":52730,"h":53250,"l":52650,"c":52880,"s":95,"v":2580},
{"d":"2026-06-22","o":52870,"h":52950,"l":52450,"c":52880,"s":72,"v":2800},
{"d":"2026-06-23","o":52350,"h":52400,"l":51950,"c":52000,"s":31,"v":2680},
{"d":"2026-06-24","o":52050,"h":52100,"l":51500,"c":51580,"s":25,"v":2960},
{"d":"2026-06-25","o":51900,"h":51950,"l":51550,"c":51650,"s":25,"v":2490},
{"d":"2026-06-26","o":51500,"h":51550,"l":51000,"c":51280,"s":17,"v":2490},
{"d":"2026-06-29","o":51280,"h":51300,"l":51000,"c":51120,"s":30,"v":2110},
{"d":"2026-06-30","o":51350,"h":51750,"l":51300,"c":51650,"s":55,"v":2680},
{"d":"2026-07-01","o":51500,"h":51700,"l":51450,"c":51620,"s":73,"v":2990},
{"d":"2026-07-02","o":51580,"h":52450,"l":51500,"c":52420,"s":82,"v":2140},
{"d":"2026-07-03","o":52650,"h":52950,"l":52600,"c":52880,"s":87,"v":2580},
{"d":"2026-07-06","o":52980,"h":53150,"l":52900,"c":53000,"s":70,"v":3120},
{"d":"2026-07-07","o":52900,"h":53300,"l":52450,"c":52500,"s":40,"v":2330},
{"d":"2026-07-08","o":52270,"h":52350,"l":51500,"c":51850,"s":38,"v":2270},
{"d":"2026-07-09","o":52200,"h":52450,"l":52150,"c":52400,"s":55,"v":2270},
{"d":"2026-07-10","o":52450,"h":52700,"l":52400,"c":52650,"s":66,"v":2270},
{"d":"2026-07-13","o":52500,"h":52850,"l":52450,"c":52800,"s":71,"v":2330},
{"d":"2026-07-14","o":52450,"h":53000,"l":52400,"c":52900,"s":60,"v":2330},
{"d":"2026-07-15","o":52780,"h":52800,"l":52400,"c":52450,"s":40,"v":2270},
{"d":"2026-07-16","o":52420,"h":52450,"l":51950,"c":52400,"s":29,"v":2200},
{"d":"2026-07-17","o":51950,"h":52100,"l":51650,"c":51980,"s":19,"v":2900},
{"d":"2026-07-20","o":51880,"h":51950,"l":51700,"c":51850,"s":25,"v":2200},
{"d":"2026-07-21","o":52050,"h":52350,"l":52000,"c":52300,"s":63,"v":2200},
{"d":"2026-07-22","o":52100,"h":52950,"l":52050,"c":52880,"s":79,"v":2580},
{"d":"2026-07-23","o":52700,"h":52750,"l":51300,"c":51320,"s":29,"v":2900},
{"d":"2026-07-24","o":51277.25,"h":51802.23,"l":51276.94,"c":51802.23,"s":44,"v":2200},
{"d":"2026-07-27"},{"d":"2026-07-28"},{"d":"2026-07-29"},{"d":"2026-07-30"},{"d":"2026-07-31"},
{"d":"2026-08-03"},{"d":"2026-08-04"},{"d":"2026-08-05"},{"d":"2026-08-06"},{"d":"2026-08-07"}
],
"hl":[
{"id":"h35500","p":35500},{"id":"h32000","p":32000},{"id":"h32770","p":32770},{"id":"h34980","p":34980},{"id":"h30650","p":30650}
],
"seg":[
{"id":"red","k":0,"d":"2025-02-24","p":40225},{"id":"red","k":1,"d":"2025-07-17","p":38190},
{"id":"blu1","k":0,"d":"2025-02-24","p":37386},{"id":"blu1","k":1,"d":"2025-07-22","p":38990},
{"id":"pur1","k":0,"d":"2025-03-21","p":38600},{"id":"pur1","k":1,"d":"2025-06-20","p":38600},
{"id":"pur2","k":0,"d":"2025-02-04","p":37546},{"id":"pur2","k":1,"d":"2025-04-30","p":37546},
{"id":"blk1","k":0,"d":"2025-04-14","p":40722},{"id":"blk1","k":1,"d":"2025-07-11","p":40722},
{"id":"blk46","k":0,"d":"2025-12-19","p":46000},{"id":"blk46","k":1,"d":"2026-08-07","p":46000},
{"id":"blk477","k":0,"d":"2026-02-09","p":47690},{"id":"blk477","k":1,"d":"2026-08-07","p":47690},
{"id":"blk471","k":0,"d":"2026-03-30","p":47105},{"id":"blk471","k":1,"d":"2026-05-26","p":47105},
{"id":"blu415","k":0,"d":"2025-08-06","p":41480},{"id":"blu415","k":1,"d":"2026-08-07","p":41480},
{"id":"blu435","k":0,"d":"2025-08-07","p":43520},{"id":"blu435","k":1,"d":"2025-12-08","p":43520},
{"id":"grnU","k":0,"d":"2025-08-14","p":43420},{"id":"grnU","k":1,"d":"2026-02-12","p":46860},
{"id":"grnL","k":0,"d":"2025-07-31","p":39700},{"id":"grnL","k":1,"d":"2026-03-06","p":44158},
{"id":"sgDot","k":0,"d":"2025-06-23","p":38660},{"id":"sgDot","k":1,"d":"2025-08-06","p":40730},
{"id":"bluDash","k":0,"d":"2025-11-18","p":42072},{"id":"bluDash","k":1,"d":"2026-01-27","p":46264},
{"id":"sgLong","k":0,"d":"2025-04-07","p":31929},{"id":"sgLong","k":1,"d":"2026-06-02","p":43790},
{"id":"sgLeft","k":0,"d":"2024-10-07","p":31848},{"id":"sgLeft","k":1,"d":"2025-06-04","p":35480},
{"id":"grnThick","k":0,"d":"2026-05-21","p":30430},{"id":"grnThick","k":1,"d":"2026-08-07","p":31048},
{"id":"blkTr","k":0,"d":"2026-03-23","p":41603},{"id":"blkTr","k":1,"d":"2026-05-20","p":50027},
{"id":"bluS","k":0,"d":"2024-10-07","p":34091},{"id":"bluS","k":1,"d":"2024-10-21","p":33960},
{"id":"olive","k":0,"d":"2024-10-07","p":34208},{"id":"olive","k":1,"d":"2024-10-08","p":34068},
{"id":"olive","k":2,"d":"2024-10-09","p":33874},{"id":"olive","k":3,"d":"2024-10-10","p":33575},
{"id":"olive","k":4,"d":"2024-10-10","p":32778},{"id":"olive","k":5,"d":"2024-10-09","p":32496},
{"id":"olive","k":6,"d":"2024-10-08","p":32318},{"id":"olive","k":7,"d":"2024-10-07","p":32191}
],
"box":[{"d":"2024-11-05","d2":"2025-04-02","p":54355,"p2":45946}],
"note":[{"d":"2024-11-05","p":54250,"t":"24 LUGLIO\nGiovedì è arrivata una prima correzione che non ha trovato\nconferma dai volumi e dalla seduta di venerdì subito\nin leggero recupero.\nLa candela non è bellissima, siamo in consolidamento\nsul Top da circa 1 mese.\nPrima indicazione di indecisione sotto i 50.700 circa.\nIn quel caso ci potrà essere un po' di volatilità ma non siamo\nancora davanti ad un pattern di inversione importante.\nPer cui vale quanto indicato ormai da anni.Operiamo con\nserenità , rispettiamo gli stop stando pronti a scappare\nquando le cose inizieranno a girarsi dopo tutti questi record."}],
"lbl":[
{"d":"2025-09-04","p":55480,"t":"FTSE MIB (51,277.25, 51,802.23, 51,276.94, 51,802.23, +486.391)"},
{"d":"2025-02-26","p":31794,"t":"dazi e chiusura gap"}
],
"cp":[{"d":"2025-08-27","d2":"2025-11-10","dm":"2025-10-03","p":30520,"p2":30395,"t":"COPYRIGHT: LABORATORIOTRADING.COM"}],
"lvl":[{"s":90},{"s":10}],
"circ":[{"d":"2025-04-10","s":49.5}],
"wk":[
{"d":"2024-10-07","t":"7"},{"d":"2024-10-14","t":"14"},{"d":"2024-10-21","t":"21"},{"d":"2024-10-28","t":"28"},
{"d":"2024-11-04","t":"4"},{"d":"2024-11-11","t":"11"},{"d":"2024-11-18","t":"18"},{"d":"2024-11-25","t":"25"},
{"d":"2024-12-02","t":"2"},{"d":"2024-12-09","t":"9"},{"d":"2024-12-16","t":"16"},{"d":"2024-12-23","t":"23"},
{"d":"2025-01-06","t":"6"},{"d":"2025-01-13","t":"13"},{"d":"2025-01-20","t":"20"},{"d":"2025-01-27","t":"27"},
{"d":"2025-02-03","t":"3"},{"d":"2025-02-10","t":"10"},{"d":"2025-02-17","t":"17"},{"d":"2025-02-24","t":"24"},
{"d":"2025-03-03","t":"3"},{"d":"2025-03-10","t":"10"},{"d":"2025-03-17","t":"17"},{"d":"2025-03-24","t":"24"},{"d":"2025-03-31","t":"31"},
{"d":"2025-04-07","t":"7"},{"d":"2025-04-14","t":"14"},{"d":"2025-04-22","t":"22"},{"d":"2025-04-28","t":"28"},
{"d":"2025-05-05","t":"5"},{"d":"2025-05-12","t":"12"},{"d":"2025-05-19","t":"19"},{"d":"2025-05-26","t":"26"},
{"d":"2025-06-02","t":"2"},{"d":"2025-06-09","t":"9"},{"d":"2025-06-16","t":"16"},{"d":"2025-06-23","t":"23"},{"d":"2025-06-30","t":"30"},
{"d":"2025-07-07","t":"7"},{"d":"2025-07-14","t":"14"},{"d":"2025-07-21","t":"21"},{"d":"2025-07-28","t":"28"},
{"d":"2025-08-04","t":"4"},{"d":"2025-08-11","t":"11"},{"d":"2025-08-18","t":"18"},{"d":"2025-08-25","t":"25"},
{"d":"2025-09-01","t":"1"},{"d":"2025-09-08","t":"8"},{"d":"2025-09-15","t":"15"},{"d":"2025-09-22","t":"22"},{"d":"2025-09-29","t":"29"},
{"d":"2025-10-06","t":"6"},{"d":"2025-10-13","t":"13"},{"d":"2025-10-20","t":"20"},{"d":"2025-10-27","t":"27"},
{"d":"2025-11-03","t":"3"},{"d":"2025-11-10","t":"10"},{"d":"2025-11-17","t":"17"},{"d":"2025-11-24","t":"24"},
{"d":"2025-12-01","t":"1"},{"d":"2025-12-08","t":"8"},{"d":"2025-12-15","t":"15"},{"d":"2025-12-22","t":"22"},
{"d":"2026-01-05","t":"5"},{"d":"2026-01-12","t":"12"},{"d":"2026-01-19","t":"19"},{"d":"2026-01-26","t":"26"},
{"d":"2026-02-02","t":"2"},{"d":"2026-02-09","t":"9"},{"d":"2026-02-16","t":"16"},{"d":"2026-02-23","t":"23"},
{"d":"2026-03-02","t":"2"},{"d":"2026-03-09","t":"9"},{"d":"2026-03-16","t":"16"},{"d":"2026-03-23","t":"23"},{"d":"2026-03-30","t":"30"},
{"d":"2026-04-07","t":"7"},{"d":"2026-04-13","t":"13"},{"d":"2026-04-20","t":"20"},{"d":"2026-04-27","t":"27"},
{"d":"2026-05-04","t":"4"},{"d":"2026-05-11","t":"11"},{"d":"2026-05-18","t":"18"},{"d":"2026-05-25","t":"25"},
{"d":"2026-06-01","t":"1"},{"d":"2026-06-08","t":"8"},{"d":"2026-06-15","t":"15"},{"d":"2026-06-22","t":"22"},{"d":"2026-06-29","t":"29"},
{"d":"2026-07-06","t":"6"},{"d":"2026-07-13","t":"13"},{"d":"2026-07-20","t":"20"},{"d":"2026-07-27","t":"27"},
{"d":"2026-08-03","t":"3"}
],
"mon":[
{"d":"2024-10-07","t":"October"},{"d":"2024-11-01","t":"November"},{"d":"2024-12-02","t":"December"},{"d":"2025-01-02","t":"2025"},
{"d":"2025-02-03","t":"February"},{"d":"2025-03-03","t":"March"},{"d":"2025-04-01","t":"April"},{"d":"2025-05-02","t":"May"},
{"d":"2025-06-02","t":"June"},{"d":"2025-07-01","t":"July"},{"d":"2025-08-01","t":"August"},{"d":"2025-09-01","t":"September"},
{"d":"2025-10-01","t":"October"},{"d":"2025-11-03","t":"November"},{"d":"2025-12-01","t":"December"},{"d":"2026-01-02","t":"2026"},
{"d":"2026-02-02","t":"February"},{"d":"2026-03-02","t":"March"},{"d":"2026-04-01","t":"April"},{"d":"2026-05-04","t":"May"},
{"d":"2026-06-01","t":"June"},{"d":"2026-07-01","t":"July"},{"d":"2026-08-03","t":"August"}
]
},
"layer":[
{"data":{"name":"wk"},"mark":{"type":"rule","color":"#b4b4b4","strokeWidth":1,"strokeDash":[4,3]},
 "encoding":{"x":{"field":"d","type":"ordinal","scale":{"type":"band","paddingInner":0,"paddingOuter":0},"axis":null},
  "y":{"datum":55930,"type":"quantitative","scale":{"type":"log","domain":[30395,55930],"range":[707,0],"nice":false},"axis":null},"y2":{"datum":30395}}},
{"data":{"name":"wk"},"mark":{"type":"rule","color":"#b4b4b4","strokeWidth":1,"strokeDash":[4,3]},
 "encoding":{"x":{"field":"d","type":"ordinal","scale":{"type":"band","paddingInner":0,"paddingOuter":0},"axis":null},
  "y":{"datum":108.03,"type":"quantitative","scale":{"domain":[-6.93,108.03],"range":[880,707],"nice":false,"zero":false},"axis":null},"y2":{"datum":-6.93}}},
{"data":{"name":"px"},"mark":{"type":"tick","opacity":0},
 "encoding":{"x":{"field":"d","type":"ordinal","scale":{"type":"band","paddingInner":0,"paddingOuter":0},"axis":null}}},
{"data":{"name":"px"},"mark":{"type":"rule","color":"#000000","strokeWidth":1},
 "encoding":{"x":{"field":"d","type":"ordinal","scale":{"type":"band","paddingInner":0,"paddingOuter":0},"axis":null},
  "y":{"field":"l","type":"quantitative","scale":{"type":"log","domain":[30395,55930],"range":[707,0],"nice":false},
   "axis":{"orient":"right","values":[30500,31000,31500,32000,32500,33000,33500,34000,34500,35000,35500,36000,36500,37000,37500,38000,38500,39000,39500,40000,40500,41000,41500,42000,42500,43000,43500,44000,44500,45000,45500,46000,46500,47000,47500,48000,48500,49000,49500,50000,50500,51000,51500,52000,52500,53000,53500,54000,54500,55000,55500],"format":"d","title":null,"labelFontSize":8.5,"labelColor":"#34445e","tickSize":3,"tickColor":"#000000","domainColor":"#000000","domainWidth":1.5,"labelPadding":2,"labelOverlap":false,"labelFlush":false,"grid":false,"minExtent":35,"maxExtent":35}},
  "y2":{"field":"h"}}},
{"data":{"name":"px"},"mark":{"type":"bar","size":2.6,"stroke":"#000000","strokeWidth":0.8},
 "encoding":{"x":{"field":"d","type":"ordinal","scale":{"type":"band","paddingInner":0,"paddingOuter":0},"axis":null},
  "y":{"field":"o","type":"quantitative","scale":{"type":"log","domain":[30395,55930],"range":[707,0],"nice":false},
   "axis":{"orient":"left","values":[30500,31000,31500,32000,32500,33000,33500,34000,34500,35000,35500,36000,36500,37000,37500,38000,38500,39000,39500,40000,40500,41000,41500,42000,42500,43000,43500,44000,44500,45000,45500,46000,46500,47000,47500,48000,48500,49000,49500,50000,50500,51000,51500,52000,52500,53000,53500,54000,54500,55000,55500],"format":"d","title":null,"labelFontSize":8.5,"labelColor":"#34445e","tickSize":3,"tickColor":"#000000","domainColor":"#000000","domainWidth":1.5,"labelPadding":2,"labelOverlap":false,"labelFlush":false,"grid":false,"minExtent":36,"maxExtent":36}},
  "y2":{"field":"c"},
  "fill":{"condition":{"test":"datum.c >= datum.o","value":"#ffffff"},"value":"#000000"}}},
{"data":{"name":"hl"},"mark":{"type":"rule","strokeWidth":1.4},
 "encoding":{"y":{"field":"p","type":"quantitative","scale":{"type":"log","domain":[30395,55930],"range":[707,0],"nice":false},"axis":null},
  "color":{"field":"id","type":"nominal","scale":{"domain":["h35500","h32000","h32770","h34980","h30650"],"range":["#000000","#000000","#000000","#ffa040","#ff0000"]},"legend":null},
  "strokeDash":{"field":"id","type":"nominal","scale":{"domain":["h35500","h32000","h32770","h34980","h30650"],"range":[[1,0],[1,0],[14,8],[4,3],[1,0]]},"legend":null}}},
{"data":{"name":"seg"},"mark":{"type":"line"},
 "encoding":{"x":{"field":"d","type":"ordinal","scale":{"type":"band","paddingInner":0,"paddingOuter":0},"axis":null},
  "y":{"field":"p","type":"quantitative","scale":{"type":"log","domain":[30395,55930],"range":[707,0],"nice":false},"axis":null},
  "detail":{"field":"id"},
  "order":{"field":"k","type":"quantitative"},
  "color":{"field":"id","type":"nominal","scale":{"domain":["red","blu1","pur1","pur2","blk1","blk46","blk477","blk471","blu415","blu435","grnU","grnL","sgDot","bluDash","sgLong","sgLeft","grnThick","blkTr","bluS","olive"],"range":["#ff0000","#0000ff","#7030a0","#7030a0","#000000","#000000","#000000","#000000","#0000ff","#0000ff","#008000","#008000","#3cb371","#0000ff","#3cb371","#3cb371","#008000","#000000","#0000ff","#a0a000"]},"legend":null},
  "strokeWidth":{"field":"id","type":"ordinal","scale":{"domain":["red","blu1","pur1","pur2","blk1","blk46","blk477","blk471","blu415","blu435","grnU","grnL","sgDot","bluDash","sgLong","sgLeft","grnThick","blkTr","bluS","olive"],"range":[1.3,1.3,1.6,1.6,1.2,1.3,1.3,1.3,1.5,1.5,1.6,1.6,1.2,1.2,1.2,1.2,3.5,1,1.3,1.2]},"legend":null},
  "strokeDash":{"field":"id","type":"nominal","scale":{"domain":["red","blu1","pur1","pur2","blk1","blk46","blk477","blk471","blu415","blu435","grnU","grnL","sgDot","bluDash","sgLong","sgLeft","grnThick","blkTr","bluS","olive"],"range":[[1,0],[1,0],[1,0],[1,0],[1,0],[1,0],[1,0],[1,0],[1,0],[1,0],[1,0],[1,0],[3,3],[3,3],[1,0],[1,0],[1,0],[1,0],[1,0],[1,0]]},"legend":null}}},
{"data":{"name":"box"},"mark":{"type":"rect","fill":"#b0eeee","stroke":"#000000","strokeWidth":3},
 "encoding":{"x":{"field":"d","type":"ordinal","scale":{"type":"band","paddingInner":0,"paddingOuter":0},"axis":null},"x2":{"field":"d2"},
  "y":{"field":"p","type":"quantitative","scale":{"type":"log","domain":[30395,55930],"range":[707,0],"nice":false},"axis":null},"y2":{"field":"p2"}}},
{"data":{"name":"note"},"mark":{"type":"text","align":"left","baseline":"top","dx":2,"fontSize":12,"fontWeight":"bold","lineHeight":16,"lineBreak":"\n","color":"#000000"},
 "encoding":{"x":{"field":"d","type":"ordinal","scale":{"type":"band","paddingInner":0,"paddingOuter":0},"axis":null},
  "y":{"field":"p","type":"quantitative","scale":{"type":"log","domain":[30395,55930],"range":[707,0],"nice":false},"axis":null},"text":{"field":"t"}}},
{"data":{"name":"lbl"},"mark":{"type":"text","align":"center","baseline":"middle","fontSize":8,"color":"#404040"},
 "encoding":{"x":{"field":"d","type":"ordinal","scale":{"type":"band","paddingInner":0,"paddingOuter":0},"axis":null},
  "y":{"field":"p","type":"quantitative","scale":{"type":"log","domain":[30395,55930],"range":[707,0],"nice":false},"axis":null},"text":{"field":"t"}}},
{"data":{"name":"cp"},"mark":{"type":"rect","fill":"#ffffff","stroke":"#000000","strokeWidth":1.2},
 "encoding":{"x":{"field":"d","type":"ordinal","scale":{"type":"band","paddingInner":0,"paddingOuter":0},"axis":null},"x2":{"field":"d2"},
  "y":{"field":"p","type":"quantitative","scale":{"type":"log","domain":[30395,55930],"range":[707,0],"nice":false},"axis":null},"y2":{"field":"p2"}}},
{"data":{"name":"cp"},"mark":{"type":"text","align":"center","baseline":"top","dy":1,"fontSize":10,"fontWeight":"bold","color":"#000000"},
 "encoding":{"x":{"field":"dm","type":"ordinal","scale":{"type":"band","paddingInner":0,"paddingOuter":0},"axis":null},
  "y":{"field":"p","type":"quantitative","scale":{"type":"log","domain":[30395,55930],"range":[707,0],"nice":false},"axis":null},"text":{"field":"t"}}},
{"data":{"name":"cp"},"mark":{"type":"rect","fill":"#ffffff","stroke":null},
 "encoding":{"x":{"field":"d","type":"ordinal","scale":{"type":"band","paddingInner":0,"paddingOuter":0},"axis":null},"x2":{"field":"d2"},
  "y":{"datum":108.03,"type":"quantitative","scale":{"domain":[-6.93,108.03],"range":[880,707],"nice":false,"zero":false},"axis":null},"y2":{"datum":100.5}}},
{"data":{"name":"wk"},"mark":{"type":"rule","color":"#b4b4b4","strokeWidth":1,"strokeDash":[4,3]},
 "encoding":{"x":{"field":"d","type":"ordinal","scale":{"type":"band","paddingInner":0,"paddingOuter":0},"axis":null},
  "y":{"datum":108.03,"type":"quantitative","scale":{"domain":[-6.93,108.03],"range":[880,707],"nice":false,"zero":false},"axis":null},"y2":{"datum":100.5}}},
{"data":{"name":"px"},"mark":{"type":"bar","size":1.3,"color":"#0000ff"},
 "encoding":{"x":{"field":"d","type":"ordinal","scale":{"type":"band","paddingInner":0,"paddingOuter":0},"axis":null},
  "y":{"field":"v","type":"quantitative","scale":{"domain":[0,16600],"range":[880,707],"nice":false,"zero":false},
   "axis":{"orient":"right","values":[1000,2000,3000,4000,5000,6000,7000,8000,9000,10000,11000,12000,13000,14000,15000],"format":"d","title":"x100000","titleAngle":0,"titleAlign":"left","titleBaseline":"bottom","titleX":3,"titleY":880,"titleFontSize":6.5,"titleFontWeight":"normal","titleColor":"#34445e","labelFontSize":8.5,"labelColor":"#34445e","tickSize":3,"tickColor":"#000000","domainColor":"#000000","domainWidth":1.5,"labelPadding":2,"labelOverlap":false,"labelFlush":false,"grid":false,"minExtent":35,"maxExtent":35}}}},
{"data":{"name":"cp"},"mark":{"type":"rule","color":"#000000","strokeWidth":1.5},
 "encoding":{"y":{"field":"p2","type":"quantitative","scale":{"type":"log","domain":[30395,55930],"range":[707,0],"nice":false},"axis":null}}},
{"data":{"name":"lvl"},"mark":{"type":"rule","color":"#0000ff","strokeWidth":1.3},
 "encoding":{"y":{"field":"s","type":"quantitative","scale":{"domain":[-6.93,108.03],"range":[880,707],"nice":false,"zero":false},"axis":null}}},
{"data":{"name":"px"},"mark":{"type":"line","color":"#ff0000","strokeWidth":1.2},
 "encoding":{"x":{"field":"d","type":"ordinal","scale":{"type":"band","paddingInner":0,"paddingOuter":0},"axis":null},
  "y":{"field":"s","type":"quantitative","scale":{"domain":[-6.93,108.03],"range":[880,707],"nice":false,"zero":false},
   "axis":{"orient":"left","values":[0,10,20,30,40,50,60,70,80,90,100],"format":"d","title":null,"labelFontSize":8.5,"labelColor":"#34445e","tickSize":3,"tickColor":"#000000","domainColor":"#000000","domainWidth":1.5,"labelPadding":2,"labelOverlap":false,"labelFlush":false,"grid":false,"minExtent":36,"maxExtent":36}}}},
{"data":{"name":"circ"},"mark":{"type":"point","shape":"circle","size":24336,"filled":false,"color":"#ff6a13","strokeWidth":2.2,"opacity":1},
 "encoding":{"x":{"field":"d","type":"ordinal","scale":{"type":"band","paddingInner":0,"paddingOuter":0},"axis":null},
  "y":{"field":"s","type":"quantitative","scale":{"domain":[-6.93,108.03],"range":[880,707],"nice":false,"zero":false},"axis":null}}},
{"data":{"name":"wk"},"mark":{"type":"rule","color":"#000000","strokeWidth":1},
 "encoding":{"x":{"field":"d","type":"ordinal","scale":{"type":"band","paddingInner":0,"paddingOuter":0},"axis":null},
  "y":{"datum":0,"type":"quantitative","scale":{"domain":[0,2],"range":[880,902],"nice":false,"zero":false},"axis":null},"y2":{"datum":1}}},
{"data":{"name":"wk"},"mark":{"type":"text","align":"left","baseline":"middle","dx":2,"fontSize":8.5,"color":"#000000"},
 "encoding":{"x":{"field":"d","type":"ordinal","scale":{"type":"band","paddingInner":0,"paddingOuter":0},"axis":null},
  "y":{"datum":0.5,"type":"quantitative","scale":{"domain":[0,2],"range":[880,902],"nice":false,"zero":false},"axis":null},"text":{"field":"t"}}},
{"data":{"name":"lvl"},"transform":[{"filter":"datum.s == 90"}],"mark":{"type":"rule","color":"#000000","strokeWidth":1},
 "encoding":{"y":{"datum":0,"type":"quantitative","scale":{"domain":[0,2],"range":[880,902],"nice":false,"zero":false},"axis":null}}},
{"data":{"name":"lvl"},"transform":[{"filter":"datum.s == 90"}],"mark":{"type":"rule","color":"#000000","strokeWidth":1},
 "encoding":{"y":{"datum":1,"type":"quantitative","scale":{"domain":[0,2],"range":[880,902],"nice":false,"zero":false},"axis":null}}},
{"data":{"name":"mon"},"transform":[{"filter":"datum.d != '2024-10-07'"}],"mark":{"type":"rule","color":"#000000","strokeWidth":1},
 "encoding":{"x":{"field":"d","type":"ordinal","scale":{"type":"band","paddingInner":0,"paddingOuter":0},"axis":null},
  "y":{"datum":1,"type":"quantitative","scale":{"domain":[0,2],"range":[880,902],"nice":false,"zero":false},"axis":null},"y2":{"datum":2}}},
{"data":{"name":"mon"},"transform":[{"filter":"datum.d != '2024-10-07'"}],"mark":{"type":"text","align":"left","baseline":"middle","dx":2,"fontSize":8.5,"color":"#000000","clip":true},
 "encoding":{"x":{"field":"d","type":"ordinal","scale":{"type":"band","paddingInner":0,"paddingOuter":0},"axis":null},
  "y":{"datum":1.5,"type":"quantitative","scale":{"domain":[0,2],"range":[880,902],"nice":false,"zero":false},"axis":null},"text":{"field":"t"}}},
{"data":{"name":"mon"},"transform":[{"filter":"datum.d == '2024-10-07'"}],"mark":{"type":"text","align":"left","baseline":"middle","dx":-15,"fontSize":8.5,"color":"#000000","clip":true},
 "encoding":{"x":{"field":"d","type":"ordinal","scale":{"type":"band","paddingInner":0,"paddingOuter":0},"axis":null},
  "y":{"datum":1.5,"type":"quantitative","scale":{"domain":[0,2],"range":[880,902],"nice":false,"zero":false},"axis":null},"text":{"field":"t"}}}
],
"resolve":{"scale":{"y":"independent","color":"independent","strokeDash":"independent","strokeWidth":"independent"},"axis":{"y":"independent"}}
}
